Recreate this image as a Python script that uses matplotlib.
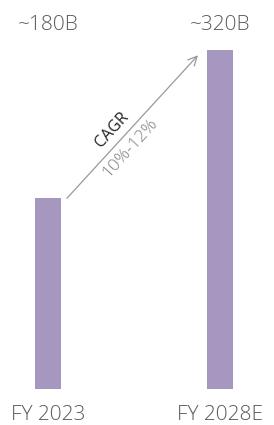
import matplotlib.pyplot as plt

years = ['FY 2023', 'FY 2028E']
values = [180, 320]
value_labels = ['~180B', '~320B']
cagr_text = 'CAGR'
cagr_range = '10%-12%'

plt.rcParams['font.family'] = ['Open Sans', 'DejaVu Sans']

fig = plt.figure(figsize=(2.74, 4.25), dpi=100)
ax = fig.add_axes([0, 0, 1, 1])
x = [0, 1]
ax.bar(x, values, width=0.151, color='#a597bf')

ax.set_xlim(-0.279, 1.314)
ax.set_ylim(-34, 367.2)
ax.axis('off')

for xi, v, lab, yr in zip(x, values, value_labels, years):
    ax.text(xi, 343.6, lab, ha='center', va='center', fontsize=15,
            color='#5a5a5a', fontweight='light')
    ax.text(xi, -24.5, yr, ha='center', va='center', fontsize=15,
            color='#5a5a5a', fontweight='light')

# CAGR arrow
x0, y0 = x[0] + 0.11, values[0]
x1, y1 = x[1] - 0.128, values[1] - 5
ax.annotate('', xy=(x1, y1), xytext=(x0, y0),
            arrowprops=dict(arrowstyle='->', color='#999999', lw=0.9,
                            mutation_scale=16, shrinkA=0, shrinkB=0))
ang = 47.7
ax.text(0.372, 244.5, cagr_text, rotation=ang, ha='center', va='center',
        fontsize=11.5, color='#222222', rotation_mode='anchor')
ax.text(0.477, 227.5, cagr_range, rotation=ang, ha='center', va='center',
        fontsize=12.5, color='#808080', rotation_mode='anchor', fontweight='light')

fig.savefig('out.png', dpi=100)
